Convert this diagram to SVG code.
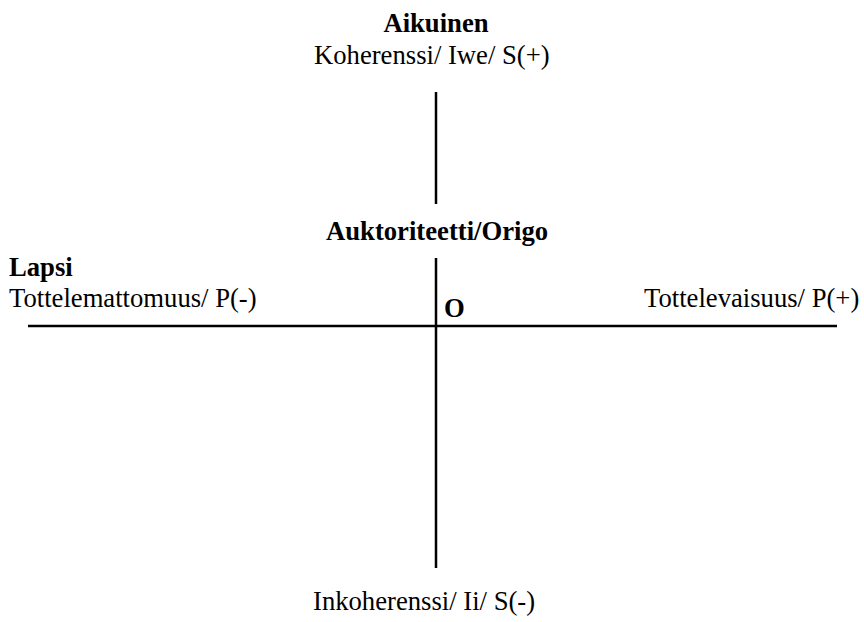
<svg xmlns="http://www.w3.org/2000/svg" width="864" height="622" viewBox="0 0 864 622">
<style>
.t{font-family:"Liberation Serif","Times New Roman",serif;font-size:26.67px;fill:#000}
.b{font-weight:bold}
.ax{stroke:#000;stroke-width:2.5;fill:none}
</style>
<rect width="864" height="622" fill="#fff"/>
<g id="connectors">
<line class="ax" x1="436" y1="92" x2="436" y2="204"/>
<line class="ax" x1="436" y1="258" x2="436" y2="568"/>
<line class="ax" x1="28" y1="326" x2="837" y2="326"/>
</g>
<g id="aikuinen">
<text class="t b" x="436" y="32" text-anchor="middle">Aikuinen</text>
<text class="t" x="314" y="64">Koherenssi/ Iwe/ S(+)</text>
</g>
<g id="auktoriteetti">
<text class="t b" x="326" y="240">Auktoriteetti/Origo</text>
</g>
<g id="lapsi">
<text class="t b" x="9" y="276">Lapsi</text>
<text class="t" x="9" y="307">Tottelemattomuus/ P(-)</text>
</g>
<g id="origo">
<text class="t b" x="444" y="317">O</text>
</g>
<g id="tottelevaisuus">
<text class="t" x="644" y="307">Tottelevaisuus/ P(+)</text>
</g>
<g id="inkoherenssi">
<text class="t" x="313" y="610">Inkoherenssi/ Ii/ S(-)</text>
</g>
</svg>
